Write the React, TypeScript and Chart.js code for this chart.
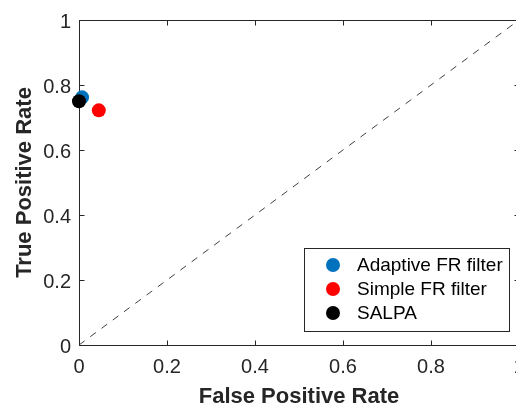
import React, { useEffect, useRef } from 'react';
import { Chart, registerables } from 'chart.js';

Chart.register(...registerables);

// ---- data ----
const seriesNames = ['Adaptive FR filter', 'Simple FR filter', 'SALPA'];
const seriesColors = ['#0072BD', '#FF0000', '#000000'];
const fprValues = [0.007, 0.045, 0.0];
const tprValues = [0.762, 0.722, 0.75];
const diagonalX = [0, 1];
const diagonalY = [0, 1];
const tickValues = [0, 0.2, 0.4, 0.6, 0.8, 1];
const tickLabels = ['0', '0.2', '0.4', '0.6', '0.8', '1'];
const xTitle = 'False Positive Rate';
const yTitle = 'True Positive Rate';

const FONT = '"Liberation Sans", Arial, Helvetica, sans-serif';
const AXIS_COLOR = '#262626';

const framePlugin = {
  id: 'matlabFrame',
  beforeDatasetsDraw(chart: any) {
    const { ctx, chartArea } = chart;
    const xs = chart.scales.x;
    const ys = chart.scales.y;
    const L = Math.round(chartArea.left) + 0.5;
    const R = Math.round(chartArea.right) + 0.5;
    const T = Math.round(chartArea.top) + 0.5;
    const B = Math.round(chartArea.bottom) + 0.5;
    ctx.save();
    ctx.strokeStyle = AXIS_COLOR;
    ctx.lineWidth = 1;
    ctx.beginPath();
    ctx.rect(L, T, R - L, B - T);
    const tl = 5;
    tickValues.forEach((v) => {
      const px = Math.round(xs.getPixelForValue(v)) + 0.5;
      ctx.moveTo(px, B);
      ctx.lineTo(px, B - tl);
      ctx.moveTo(px, T);
      ctx.lineTo(px, T + tl);
      const py = Math.round(ys.getPixelForValue(v)) + 0.5;
      ctx.moveTo(L, py);
      ctx.lineTo(L + tl, py);
      ctx.moveTo(R, py);
      ctx.lineTo(R - tl, py);
    });
    ctx.stroke();
    ctx.restore();
  },
  afterDraw(chart: any) {
    const { ctx } = chart;
    const boxL = 304.5;
    const boxT = 248.5;
    const boxW = 205;
    const boxH = 83;
    ctx.save();
    ctx.fillStyle = '#ffffff';
    ctx.fillRect(boxL, boxT, boxW, boxH);
    ctx.strokeStyle = AXIS_COLOR;
    ctx.lineWidth = 1;
    ctx.strokeRect(boxL, boxT, boxW, boxH);
    const rows = [265, 289, 313];
    ctx.font = `19px ${FONT}`;
    ctx.textBaseline = 'middle';
    ctx.textAlign = 'left';
    seriesNames.forEach((name, i) => {
      ctx.beginPath();
      ctx.fillStyle = seriesColors[i];
      ctx.arc(333, rows[i], 7, 0, Math.PI * 2);
      ctx.fill();
      ctx.fillStyle = '#000000';
      ctx.fillText(name, 357, rows[i] + 1);
    });
    ctx.restore();
  },
};

export default function App() {
  const canvasRef = useRef<HTMLCanvasElement | null>(null);

  useEffect(() => {
    if (!canvasRef.current) return;
    const pointSets = seriesNames.map((name, i) => ({
      label: name,
      data: [{ x: fprValues[i], y: tprValues[i] }],
      backgroundColor: seriesColors[i],
      borderColor: seriesColors[i],
      borderWidth: 0,
      pointRadius: 7,
      pointHoverRadius: 7,
      clip: false as any,
      order: 2 - i,
    }));
    const diagonal = {
      label: 'diagonal',
      data: diagonalX.map((x, i) => ({ x, y: diagonalY[i] })),
      showLine: true,
      borderColor: '#2a2a2a',
      borderWidth: 0.9,
      borderDash: [7, 7],
      pointRadius: 0,
      pointHoverRadius: 0,
      order: 5,
    };
    const chart = new Chart(canvasRef.current, {
      type: 'scatter',
      data: { datasets: [...pointSets, diagonal] as any },
      options: {
        animation: false,
        responsive: false,
        events: [],
        layout: { padding: { left: 0, top: 16, right: 21, bottom: 0 } },
        plugins: {
          legend: { display: false },
          tooltip: { enabled: false },
        },
        scales: {
          x: {
            type: 'linear',
            min: 0,
            max: 1,
            afterBuildTicks: (s: any) => {
              s.ticks = tickValues.map((v) => ({ value: v }));
            },
            afterFit: (s: any) => {
              s.height = 63;
            },
            ticks: {
              autoSkip: false,
              maxRotation: 0,
              color: AXIS_COLOR,
              padding: 10,
              font: { family: FONT, size: 20, lineHeight: 1.2 },
              callback: (_v: any, i: number) => tickLabels[i],
            },
            grid: { display: false, drawTicks: false },
            border: { display: false },
            title: {
              display: true,
              text: xTitle,
              color: AXIS_COLOR,
              font: { family: FONT, size: 22, weight: 'bold', lineHeight: 1 },
              padding: { top: 0, bottom: 0 },
            },
          },
          y: {
            type: 'linear',
            min: 0,
            max: 1,
            afterBuildTicks: (s: any) => {
              s.ticks = tickValues.map((v) => ({ value: v }));
            },
            afterFit: (s: any) => {
              s.width = 79;
            },
            ticks: {
              autoSkip: false,
              color: AXIS_COLOR,
              padding: 8,
              labelOffset: 2,
              font: { family: FONT, size: 20, lineHeight: 1.2 },
              callback: (_v: any, i: number) => tickLabels[i],
            },
            grid: { display: false, drawTicks: false },
            border: { display: false },
            title: {
              display: true,
              text: yTitle,
              color: AXIS_COLOR,
              font: { family: FONT, size: 22, weight: 'bold', lineHeight: 1 },
              padding: { top: 14, bottom: 0 },
            },
          },
        },
      } as any,
      plugins: [framePlugin],
    });
    return () => chart.destroy();
  }, []);

  return (
    <div
      style={{
        position: 'fixed',
        left: 0,
        top: 0,
        width: 516,
        height: 408,
        overflow: 'hidden',
        background: '#ffffff',
      }}
    >
      <canvas ref={canvasRef} width={540} height={408} style={{ display: 'block' }} />
    </div>
  );
}
